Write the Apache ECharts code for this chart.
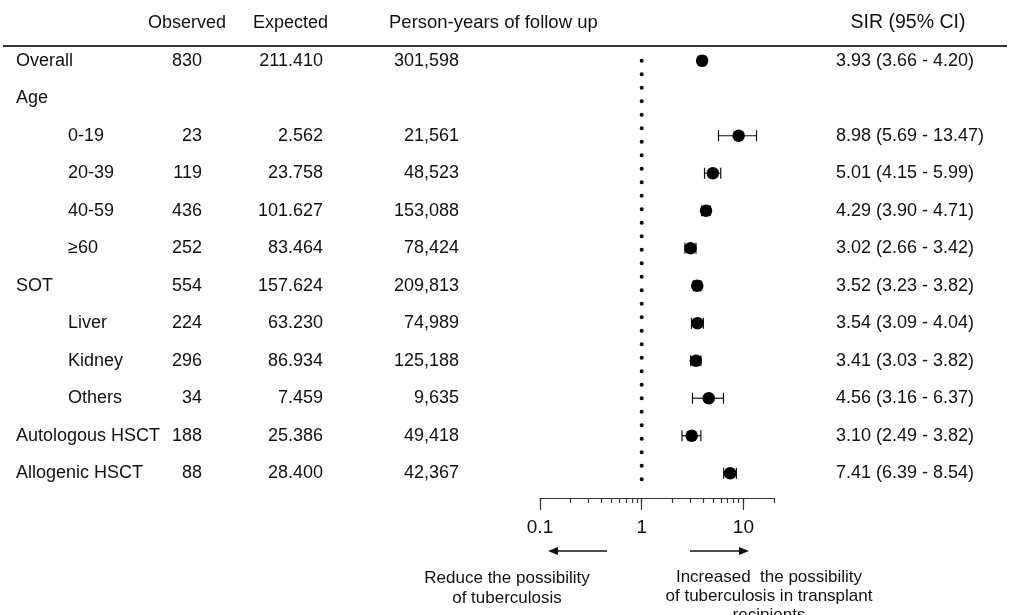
<!DOCTYPE html>
<html>
<head>
<meta charset="utf-8">
<script src="https://cdn.jsdelivr.net/npm/echarts@6/dist/echarts.min.js"></script>
<style>
html, body { margin: 0; padding: 0; background: #fff; }
#main { width: 1012px; height: 615px; }
</style>
</head>
<body>
<div id="main"></div>
<script>
var myChart = echarts.init(document.getElementById('main'));

// table rows (the "Age" row is a group heading with no numbers)
var rows = ['Overall', 'Age', '0-19', '20-39', '40-59', '≥60', 'SOT', 'Liver', 'Kidney', 'Others', 'Autologous HSCT', 'Allogenic HSCT'];
var rowLevel = [0, 0, 1, 1, 1, 1, 0, 1, 1, 1, 0, 0];
var observed = [830, null, 23, 119, 436, 252, 554, 224, 296, 34, 188, 88];
var expected = [211.410, null, 2.562, 23.758, 101.627, 83.464, 157.624, 63.230, 86.934, 7.459, 25.386, 28.400];
var personYears = [301598, null, 21561, 48523, 153088, 78424, 209813, 74989, 125188, 9635, 49418, 42367];
var sir = [3.93, null, 8.98, 5.01, 4.29, 3.02, 3.52, 3.54, 3.41, 4.56, 3.10, 7.41];
var ciLow = [3.66, null, 5.69, 4.15, 3.90, 2.66, 3.23, 3.09, 3.03, 3.16, 2.49, 6.39];
var ciHigh = [4.20, null, 13.47, 5.99, 4.71, 3.42, 3.82, 4.04, 3.82, 6.37, 3.82, 8.54];
var headers = ['Observed', 'Expected', 'Person-years of follow up', 'SIR (95% CI)'];
var tickValues = [0.1, 0.2, 0.3, 0.4, 0.5, 0.6, 0.7, 0.8, 0.9, 1, 2, 3, 4, 5, 6, 7, 8, 9, 10, 20];
var majorTicks = [0.1, 1, 10];
var refValue = 1;

var FONT = '"Liberation Sans", Arial, sans-serif';
var TXT = '#111';

function fmt(v, f) { return v == null ? '' : f(v); }

var labelText = rows;
var obsText = observed.map(function (v) { return fmt(v, String); });
var expText = expected.map(function (v) { return fmt(v, function (x) { return x.toFixed(3); }); });
var pyText = personYears.map(function (v) { return fmt(v, function (x) { return x.toLocaleString('en-US'); }); });
var sirText = sir.map(function (v, i) {
    return v == null ? '' : v.toFixed(2) + ' (' + ciLow[i].toFixed(2) + ' - ' + ciHigh[i].toFixed(2) + ')';
});

// one text column of the table, placed through the table grid's axes
function textColumn(texts, xFn, align) {
    return {
        type: 'custom',
        xAxisIndex: 0,
        yAxisIndex: 0,
        silent: true,
        data: texts.map(function (t, i) { return [xFn(i), i]; }),
        encode: { x: 0, y: 1 },
        renderItem: function (params, api) {
            var p = api.coord([api.value(0), api.value(1)]);
            return {
                type: 'text',
                x: p[0],
                y: p[1],
                style: {
                    text: texts[params.dataIndex],
                    textAlign: align,
                    textVerticalAlign: 'middle',
                    font: '18px ' + FONT,
                    fill: TXT
                }
            };
        }
    };
}

var points = [];
var bars = [];
sir.forEach(function (v, i) {
    if (v == null) return;
    points.push([v, i]);
    bars.push([ciLow[i], ciHigh[i], i]);
});

var gridTop = 42, gridHeight = 450;

option = {
    animation: false,
    backgroundColor: '#fff',
    grid: [
        { left: 0, width: 1012, top: gridTop, height: gridHeight },
        { left: 540, width: 234, top: gridTop, height: gridHeight }
    ],
    xAxis: [
        { type: 'value', gridIndex: 0, min: 0, max: 1012, show: false },
        {
            type: 'log', gridIndex: 1, position: 'bottom', min: 0.1, max: 20, logBase: 10, offset: 6,
            splitLine: { show: false },
            axisLine: { show: true, lineStyle: { color: '#333', width: 1.2 } },
            axisTick: { show: true, length: 5, customValues: tickValues, lineStyle: { color: '#333', width: 1.2 } },
            axisLabel: {
                customValues: majorTicks, margin: 20, fontSize: 19, color: TXT, fontFamily: FONT,
                formatter: function (v) { return String(+v.toPrecision(3)); }
            }
        },
        {
            type: 'log', gridIndex: 1, position: 'bottom', min: 0.1, max: 20, logBase: 10, offset: 6,
            splitLine: { show: false },
            axisLine: { show: false },
            axisTick: { show: true, length: 12, customValues: majorTicks, lineStyle: { color: '#333', width: 1.2 } },
            axisLabel: { show: false }
        }
    ],
    yAxis: [
        { type: 'category', gridIndex: 0, data: rows, inverse: true, show: false },
        { type: 'category', gridIndex: 1, data: rows, inverse: true, show: false }
    ],
    graphic: [
        { type: 'text', left: 148, top: 14, style: { text: headers[0], font: '18px ' + FONT, fill: TXT } },
        { type: 'text', left: 253, top: 14, style: { text: headers[1], font: '18px ' + FONT, fill: TXT } },
        { type: 'text', left: 389, top: 13, style: { text: headers[2], font: '18.5px ' + FONT, fill: TXT } },
        { type: 'text', x: 908, y: 23, style: { text: headers[3], font: '19.5px ' + FONT, fill: TXT, textAlign: 'center', textVerticalAlign: 'middle' } },
        { type: 'line', shape: { x1: 3, y1: 46, x2: 1007, y2: 46 }, style: { stroke: '#333', lineWidth: 2 } },
        // arrows
        { type: 'line', shape: { x1: 607, y1: 551, x2: 556, y2: 551 }, style: { stroke: '#111', lineWidth: 1.3 } },
        { type: 'polygon', shape: { points: [[548, 551], [558, 547], [558, 555]] }, style: { fill: '#111' } },
        { type: 'line', shape: { x1: 690, y1: 551, x2: 740, y2: 551 }, style: { stroke: '#111', lineWidth: 1.3 } },
        { type: 'polygon', shape: { points: [[749, 551], [739, 547], [739, 555]] }, style: { fill: '#111' } },
        {
            type: 'text', x: 507, y: 568,
            style: { text: 'Reduce the possibility\nof tuberculosis', font: '17px ' + FONT, fill: TXT, textAlign: 'center', lineHeight: 20 }
        },
        {
            type: 'text', x: 769, y: 568,
            style: { text: 'Increased  the possibility\nof tuberculosis in transplant\nrecipients', font: '17px ' + FONT, fill: TXT, textAlign: 'center', lineHeight: 19 }
        }
    ],
    series: [
        textColumn(labelText, function (i) { return rowLevel[i] ? 68 : 16; }, 'left'),
        textColumn(obsText, function () { return 202; }, 'right'),
        textColumn(expText, function () { return 323; }, 'right'),
        textColumn(pyText, function () { return 459; }, 'right'),
        textColumn(sirText, function () { return 836; }, 'left'),
        {
            // dotted reference line at SIR = 1
            type: 'custom',
            xAxisIndex: 1,
            yAxisIndex: 1,
            silent: true,
            data: [[refValue, 0, rows.length - 1]],
            encode: { x: 0, y: [1, 2] },
            renderItem: function (params, api) {
                var a = api.coord([api.value(0), api.value(1)]);
                var b = api.coord([api.value(0), api.value(2)]);
                var half = api.size([0, 1])[1] / 2;
                return {
                    type: 'line',
                    shape: { x1: a[0], y1: a[1], x2: b[0], y2: b[1] + half * 0.5 },
                    style: { stroke: '#000', lineWidth: 4, lineDash: [0, 13.5], lineCap: 'round' }
                };
            }
        },
        {
            type: 'custom',
            xAxisIndex: 1,
            yAxisIndex: 1,
            silent: true,
            data: bars,
            encode: { x: [0, 1], y: 2 },
            renderItem: function (params, api) {
                var a = api.coord([api.value(0), api.value(2)]);
                var b = api.coord([api.value(1), api.value(2)]);
                var h = 5.5;
                var st = { stroke: '#111', lineWidth: 1.2 };
                return {
                    type: 'group',
                    children: [
                        { type: 'line', shape: { x1: a[0], y1: a[1], x2: b[0], y2: b[1] }, style: st },
                        { type: 'line', shape: { x1: a[0], y1: a[1] - h, x2: a[0], y2: a[1] + h }, style: st },
                        { type: 'line', shape: { x1: b[0], y1: b[1] - h, x2: b[0], y2: b[1] + h }, style: st }
                    ]
                };
            }
        },
        {
            type: 'scatter',
            xAxisIndex: 1,
            yAxisIndex: 1,
            data: points,
            symbolSize: 12.5,
            itemStyle: { color: '#000', opacity: 1 },
            silent: true,
            z: 5
        }
    ]
};

myChart.setOption(option);
</script>
</body>
</html>
